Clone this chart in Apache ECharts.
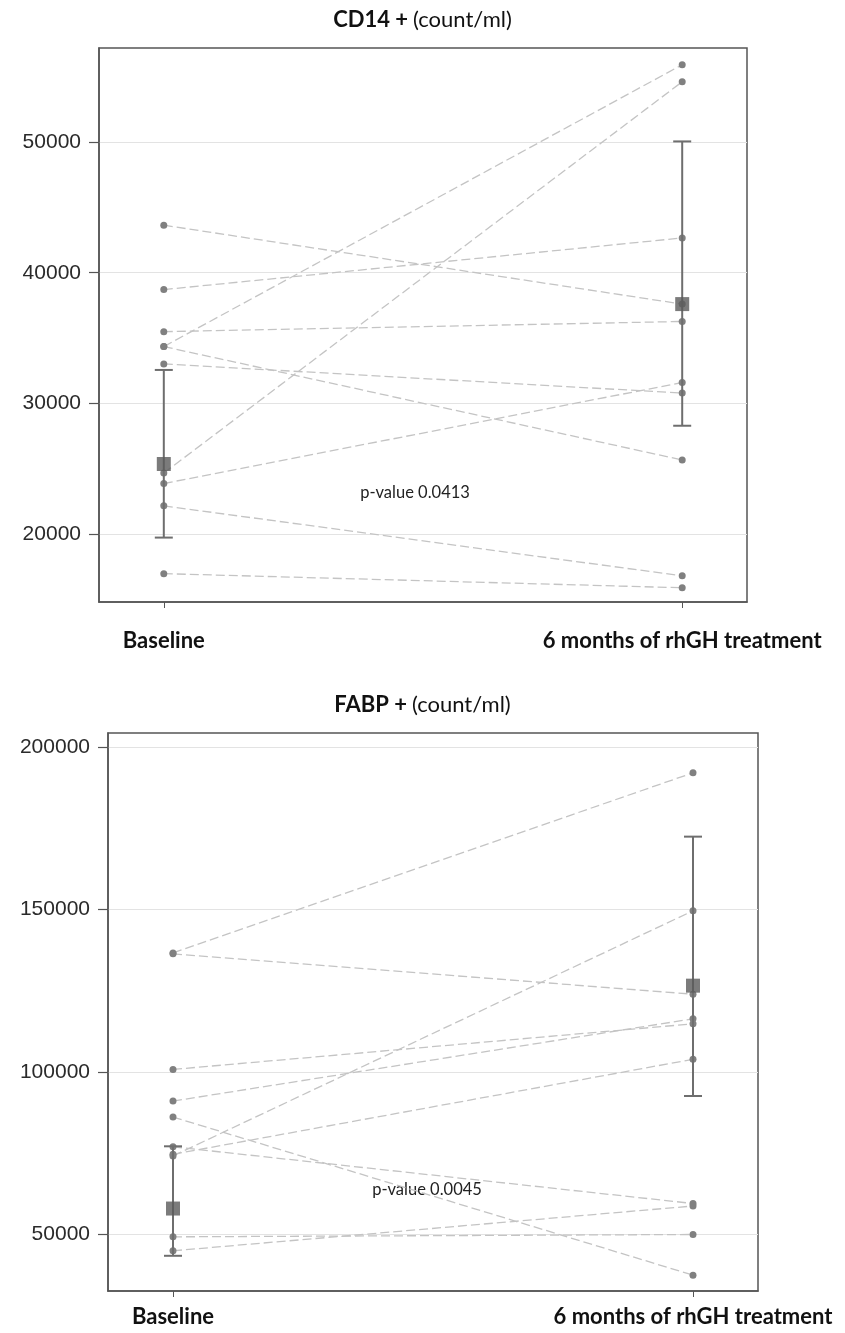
<!DOCTYPE html>
<html>
<head>
<meta charset="utf-8">
<script src="https://cdn.jsdelivr.net/npm/echarts@6/dist/echarts.min.js"></script>
<style>
  html, body { margin: 0; padding: 0; background: #fff; }
  #chart { width: 845px; height: 1333px; }
</style>
</head>
<body>
<div id="chart"></div>
<script>
const groups = ['Baseline', '6 months of rhGH treatment'];

// CD14+ (count/ml), one value per subject
const cd14Baseline = [43640, 38710, 35490, 34350, 34350, 33020, 24670, 23870, 22160, 16970];
const cd14Month6 = [37600, 42660, 36270, 55920, 25670, 30790, 54615, 31600, 16800, 15890];
const cd14Mean = [25360, 37600];
const cd14Low = [19730, 28290];
const cd14High = [32560, 50050];
const cd14Ticks = [20000, 30000, 40000, 50000];

// FABP+ (count/ml)
const fabpBaseline = [136600, 136300, 100720, 90980, 86070, 76900, 74590, 74080, 49180, 44880];
const fabpMonth6 = [192040, 123880, 114760, 116300, 37380, 59440, 103840, 149560, 49900, 58670];
const fabpMean = [57890, 126510];
const fabpLow = [43340, 92540];
const fabpHigh = [77050, 172390];
const fabpTicks = [50000, 100000, 150000, 200000];

const chart = echarts.init(document.getElementById('chart'));

const boxColor = '#555';
const labelFont = 'Lato, "Open Sans", sans-serif';

function xAxisFor(idx, margin) {
  return {
    gridIndex: idx,
    type: 'value',
    min: -0.125,
    max: 1.125,
    axisLine: { show: true, onZero: false, lineStyle: { color: boxColor, width: 1.5 } },
    axisTick: { show: true, length: 6, customValues: [0, 1], lineStyle: { color: boxColor } },
    axisLabel: {
      customValues: [0, 1],
      formatter: v => groups[Math.round(v)],
      margin: margin,
      color: '#111',
      fontSize: 22,
      fontWeight: 'bold',
      fontFamily: labelFont
    },
    splitLine: { show: false }
  };
}

function yAxisFor(idx, min, max, ticks) {
  return {
    gridIndex: idx,
    type: 'value',
    min: min,
    max: max,
    axisLine: { show: true, onZero: false, lineStyle: { color: boxColor, width: 1.5 } },
    axisTick: { show: true, length: 10, customValues: ticks, lineStyle: { color: boxColor, width: 1.2 } },
    axisLabel: {
      customValues: ticks,
      formatter: v => String(v),
      margin: 18,
      color: '#2a2a2a',
      fontSize: 21,
      fontFamily: '"Liberation Sans", Arial, sans-serif'
    },
    splitLine: { show: true, lineStyle: { color: '#e3e3e3', width: 1 } }
  };
}

function subjectSeries(idx, before, after) {
  return before.map((b, i) => ({
    type: 'line',
    xAxisIndex: idx,
    yAxisIndex: idx,
    data: [[0, b], [1, after[i]]],
    symbol: 'circle',
    symbolSize: 7,
    itemStyle: { color: '#808080' },
    lineStyle: { color: '#c4c4c4', width: 1.3, type: [9, 4] },
    silent: true,
    z: 2
  }));
}

function errorSeries(idx, low, high) {
  return {
    type: 'custom',
    xAxisIndex: idx,
    yAxisIndex: idx,
    data: low.map((l, i) => [i, l, high[i]]),
    renderItem: (params, api) => {
      const top = api.coord([api.value(0), api.value(2)]);
      const bot = api.coord([api.value(0), api.value(1)]);
      const style = { stroke: '#6e6e6e', lineWidth: 2 };
      const cap = 9;
      return {
        type: 'group',
        children: [
          { type: 'line', shape: { x1: top[0], y1: top[1], x2: bot[0], y2: bot[1] }, style },
          { type: 'line', shape: { x1: top[0] - cap, y1: top[1], x2: top[0] + cap, y2: top[1] }, style },
          { type: 'line', shape: { x1: bot[0] - cap, y1: bot[1], x2: bot[0] + cap, y2: bot[1] }, style }
        ]
      };
    },
    z: 3
  };
}

function meanSeries(idx, mean) {
  return {
    type: 'scatter',
    xAxisIndex: idx,
    yAxisIndex: idx,
    data: mean.map((m, i) => [i, m]),
    symbol: 'rect',
    symbolSize: 14,
    itemStyle: { color: '#5a5a5a' },
    z: 4
  };
}

const titleRich = {
  b: { fontWeight: 'bold', fontSize: 22, color: '#111', fontFamily: labelFont },
  n: { fontWeight: 'normal', fontSize: 22, color: '#111', fontFamily: labelFont }
};

const option = {
  animation: false,
  backgroundColor: '#fff',
  title: [
    { text: '{b|CD14 +} {n|(count/ml)}', left: 'center', top: 4, textStyle: { rich: titleRich } },
    { text: '{b|FABP +} {n|(count/ml)}', left: 'center', top: 689, textStyle: { rich: titleRich } }
  ],
  grid: [
    { left: 99, top: 48, width: 648, height: 554, show: true, borderColor: boxColor, borderWidth: 1.5 },
    { left: 108, top: 733, width: 650, height: 558, show: true, borderColor: boxColor, borderWidth: 1.5 }
  ],
  xAxis: [xAxisFor(0, 28), xAxisFor(1, 15)],
  yAxis: [
    yAxisFor(0, 14800, 57200, cd14Ticks),
    yAxisFor(1, 32500, 204300, fabpTicks)
  ],
  graphic: [
    { type: 'text', style: { text: 'p-value 0.0413', x: 415, y: 493, align: 'center', verticalAlign: 'middle', fontSize: 16.5, fill: '#222', fontFamily: labelFont } },
    { type: 'text', style: { text: 'p-value 0.0045', x: 427, y: 1190, align: 'center', verticalAlign: 'middle', fontSize: 16.5, fill: '#222', fontFamily: labelFont } }
  ],
  series: [
    ...subjectSeries(0, cd14Baseline, cd14Month6),
    errorSeries(0, cd14Low, cd14High),
    meanSeries(0, cd14Mean),
    ...subjectSeries(1, fabpBaseline, fabpMonth6),
    errorSeries(1, fabpLow, fabpHigh),
    meanSeries(1, fabpMean)
  ]
};

chart.setOption(option);
</script>
</body>
</html>
